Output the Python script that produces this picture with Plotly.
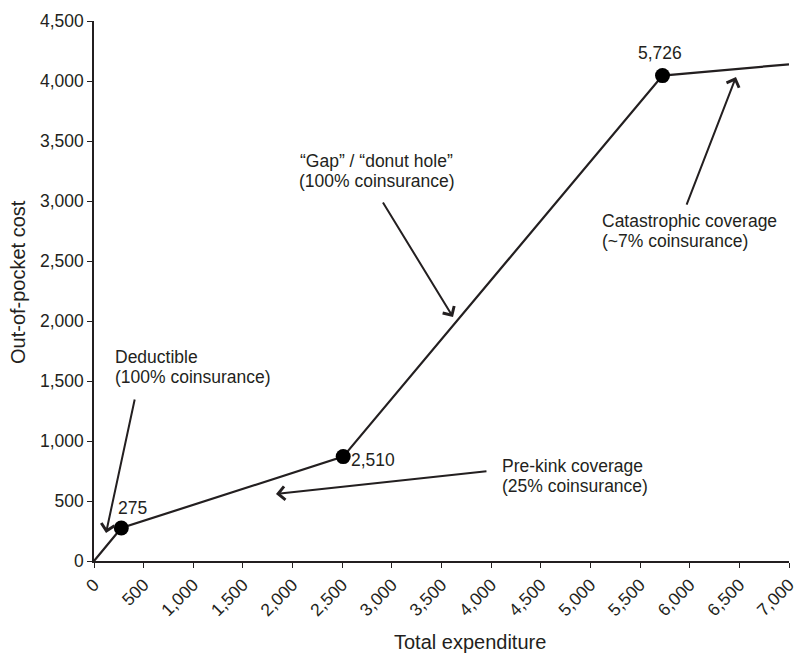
import plotly.graph_objects as go

# Data
expenditure = [0, 275, 2510, 5726, 7000]
out_of_pocket = [0, 275, 870, 4045, 4139]
kink_x = [275, 2510, 5726]
kink_y = [275, 870, 4045]
kink_labels = ["275", "2,510", "5,726"]
x_ticks = list(range(0, 7001, 500))
y_ticks = list(range(0, 4501, 500))

INK = "#231f20"
FONT = "Liberation Sans, Arial, Helvetica, sans-serif"

# page body has an 8px margin; the plot area should land at x 94..789, y 21..561
OFF = 8
PLOT_L, PLOT_R, PLOT_T, PLOT_B = 94, 789, 21, 561
PW, PH = PLOT_R - PLOT_L, PLOT_B - PLOT_T
W, H = 808 - OFF, 653 - OFF
L, T = PLOT_L - OFF, PLOT_T - OFF
R, B = W - L - PW, H - T - PH


def px_to_paper(px, py):
    return (px - PLOT_L) / PW, (PLOT_B - py) / PH


fig = go.Figure()
fig.add_trace(go.Scatter(x=expenditure, y=out_of_pocket, mode="lines",
                         line=dict(color=INK, width=2.2), hoverinfo="skip",
                         showlegend=False))
fig.add_trace(go.Scatter(x=kink_x, y=kink_y, mode="markers",
                         marker=dict(color="black", size=15), showlegend=False))

ann = []
# kink labels
ann.append(dict(x=kink_x[0], y=kink_y[0], text=kink_labels[0], xshift=11, yshift=20,
                xanchor="center", yanchor="middle", showarrow=False))
ann.append(dict(x=kink_x[1], y=kink_y[1], text=kink_labels[1], xshift=6, yshift=-3,
                xanchor="left", yanchor="middle", showarrow=False))
ann.append(dict(x=kink_x[2], y=kink_y[2], text=kink_labels[2], xshift=-3, yshift=23,
                xanchor="center", yanchor="middle", showarrow=False))

# descriptive labels, one annotation per line for tight leading
blocks = [
    (191, 1617, ["Deductible", "(100% coinsurance)"], "left"),
    (2850, 3250, ["“Gap” / “donut hole”", "(100% coinsurance)"], "center"),
    (4089, 708, ["Pre-kink coverage", "(25% coinsurance)"], "left"),
    (5096, 2754, ["Catastrophic coverage", "(~7% coinsurance)"], "left"),
]
for x, yc, lines, anchor in blocks:
    for i, t in enumerate(lines):
        ann.append(dict(x=x, y=yc, text=t, xanchor=anchor, yanchor="middle",
                        yshift=10 - 20 * i, showarrow=False))

# arrows (tip x,y ; tail ax,ay)
arrows = [
    (121, 233, 413, 1358),
    (3616, 2033, 2901, 3000),
    (1833, 558, 3968, 750),
    (6466, 4033, 5963, 2958),
]
for x, y, ax, ay in arrows:
    ann.append(dict(x=x, y=y, ax=ax, ay=ay, xref="x", yref="y", axref="x", ayref="y",
                    text="", showarrow=True, arrowhead=4, arrowsize=1.3,
                    arrowwidth=2, arrowcolor=INK))

for a in ann:
    a.setdefault("font", dict(family=FONT, size=17.5, color=INK))

# axis titles placed as paper annotations
xt = px_to_paper(470, 642)
yt = px_to_paper(18, 282)
ann.append(dict(xref="paper", yref="paper", x=xt[0], y=xt[1], text="Total expenditure",
                showarrow=False, xanchor="center", yanchor="middle",
                font=dict(family=FONT, size=20, color=INK)))
ann.append(dict(xref="paper", yref="paper", x=yt[0], y=yt[1], text="Out-of-pocket cost",
                showarrow=False, xanchor="center", yanchor="middle", textangle=-90,
                font=dict(family=FONT, size=20, color=INK)))

fig.update_layout(
    width=W, height=H,
    margin=dict(l=L, r=R, t=T, b=B, autoexpand=False),
    paper_bgcolor="white", plot_bgcolor="white",
    font=dict(family=FONT, size=18, color=INK),
    annotations=ann,
    showlegend=False,
)
fig.update_xaxes(range=[0, 7000], tickvals=x_ticks,
                 ticktext=[f"{v:,}" for v in x_ticks], tickangle=-45,
                 showgrid=False, zeroline=False, showline=True, linecolor=INK,
                 linewidth=1.5, ticks="outside", ticklen=5, tickcolor=INK,
                 automargin=False, tickfont=dict(size=17.5))
fig.update_yaxes(range=[0, 4500], tickvals=y_ticks,
                 ticktext=[f"{v:,}" for v in y_ticks],
                 showgrid=False, zeroline=False, showline=True, linecolor=INK,
                 linewidth=1.5, ticks="outside", ticklen=5, tickcolor=INK,
                 automargin=False, tickfont=dict(size=17.5))

fig.write_html("out.html")
